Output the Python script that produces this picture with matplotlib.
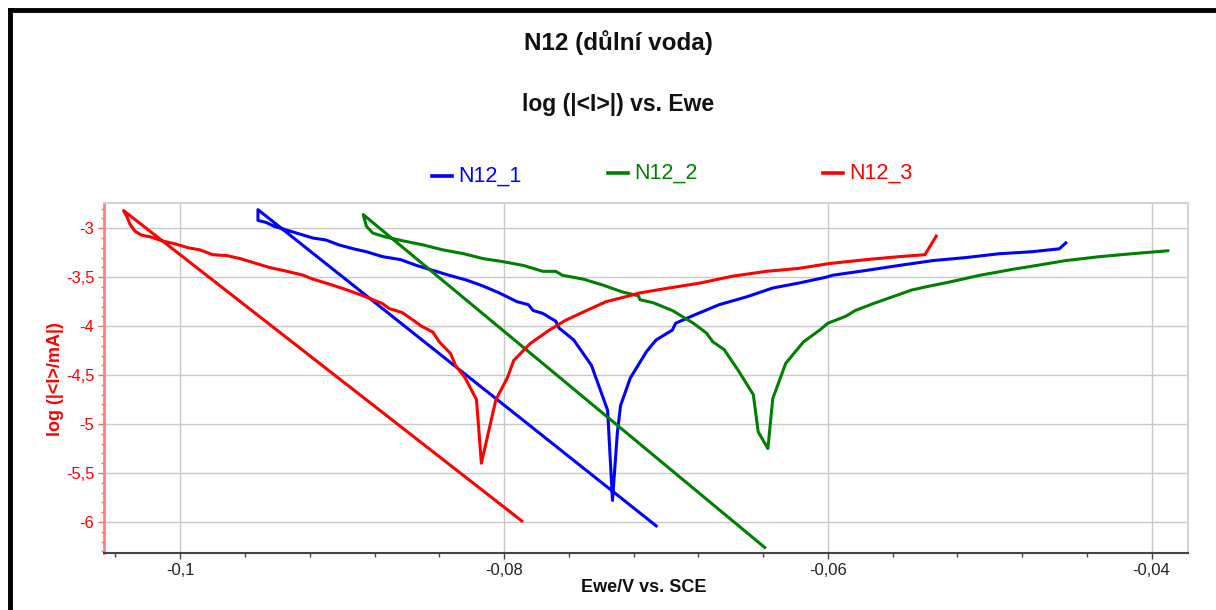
import matplotlib
matplotlib.use("Agg")
import matplotlib.pyplot as plt
from matplotlib.lines import Line2D
from matplotlib.ticker import MultipleLocator, FuncFormatter

plt.rcParams['font.family'] = ['Liberation Sans', 'DejaVu Sans']

# Ewe/V vs. SCE and log(|<I>/mA|)
n12_1_ewe = [-0.0706, -0.0952, -0.0952, -0.0947, -0.0942, -0.0934, -0.0926, -0.0918,
             -0.0910, -0.0902, -0.0893, -0.0885, -0.0875, -0.0864, -0.0854, -0.0844,
             -0.0834, -0.0823, -0.0813, -0.0803, -0.0792, -0.0785, -0.0782, -0.0776,
             -0.0768, -0.0766, -0.0757, -0.0746, -0.0736, -0.0733, -0.0730, -0.0728,
             -0.0722, -0.0712, -0.0706, -0.0696, -0.0694, -0.0683, -0.0667, -0.0650,
             -0.0634, -0.0618, -0.0601, -0.0597, -0.0576, -0.0556, -0.0535, -0.0515,
             -0.0494, -0.0474, -0.0457, -0.0453]
n12_1_logi = [-6.04, -2.81, -2.92, -2.94, -2.98, -3.02, -3.06, -3.10,
              -3.12, -3.17, -3.21, -3.24, -3.29, -3.32, -3.38, -3.43,
              -3.48, -3.53, -3.59, -3.66, -3.75, -3.78, -3.84, -3.87,
              -3.95, -4.02, -4.14, -4.40, -4.86, -5.78, -5.09, -4.81,
              -4.53, -4.26, -4.14, -4.04, -3.97, -3.89, -3.78, -3.70,
              -3.61, -3.56, -3.50, -3.48, -3.43, -3.38, -3.33, -3.30,
              -3.26, -3.24, -3.21, -3.15]

n12_2_ewe = [-0.0639, -0.0887, -0.0885, -0.0881, -0.0873, -0.0862, -0.0850, -0.0838,
             -0.0825, -0.0813, -0.0801, -0.0788, -0.0776, -0.0768, -0.0764, -0.0751,
             -0.0739, -0.0727, -0.0717, -0.0716, -0.0708, -0.0696, -0.0683, -0.0675,
             -0.0671, -0.0664, -0.0655, -0.0646, -0.0643, -0.0637, -0.0634, -0.0626,
             -0.0615, -0.0605, -0.0600, -0.0589, -0.0583, -0.0572, -0.0560, -0.0548,
             -0.0537, -0.0525, -0.0506, -0.0486, -0.0471, -0.0453, -0.0432, -0.0412,
             -0.0390]
n12_2_logi = [-6.26, -2.86, -2.98, -3.05, -3.09, -3.13, -3.17, -3.22,
              -3.26, -3.31, -3.34, -3.38, -3.44, -3.44, -3.48, -3.52,
              -3.58, -3.65, -3.69, -3.73, -3.76, -3.84, -3.97, -4.07,
              -4.16, -4.24, -4.46, -4.70, -5.08, -5.25, -4.74, -4.38,
              -4.16, -4.04, -3.97, -3.90, -3.84, -3.77, -3.70, -3.63,
              -3.59, -3.55, -3.48, -3.42, -3.38, -3.33, -3.29, -3.26,
              -3.23]

n12_3_ewe = [-0.0789, -0.1035, -0.1033, -0.1031, -0.1028, -0.1024, -0.1018, -0.1011,
             -0.1003, -0.0995, -0.0988, -0.0980, -0.0971, -0.0963, -0.0953, -0.0945,
             -0.0934, -0.0924, -0.0918, -0.0908, -0.0897, -0.0887, -0.0881, -0.0875,
             -0.0871, -0.0863, -0.0856, -0.0851, -0.0844, -0.0840, -0.0833, -0.0830,
             -0.0824, -0.0817, -0.0814, -0.0805, -0.0798, -0.0794, -0.0784, -0.0772,
             -0.0762, -0.0749, -0.0737, -0.0725, -0.0716, -0.0698, -0.0679, -0.0659,
             -0.0638, -0.0618, -0.0599, -0.0576, -0.0556, -0.0540, -0.0533]
n12_3_logi = [-5.99, -2.82, -2.88, -2.96, -3.03, -3.07, -3.09, -3.13,
              -3.16, -3.20, -3.22, -3.27, -3.28, -3.31, -3.36, -3.40,
              -3.44, -3.48, -3.52, -3.57, -3.63, -3.69, -3.73, -3.77,
              -3.82, -3.86, -3.94, -4.00, -4.06, -4.16, -4.28, -4.40,
              -4.53, -4.75, -5.40, -4.75, -4.53, -4.35, -4.18, -4.04,
              -3.94, -3.84, -3.75, -3.70, -3.66, -3.61, -3.56, -3.49,
              -3.44, -3.41, -3.36, -3.32, -3.29, -3.27, -3.08]

series_names = ['N12_1', 'N12_2', 'N12_3']
series_colors = ['#0000FF', '#008000', '#FF0000']

W, H = 1216, 610
fig = plt.figure(figsize=(W / 100, H / 100), dpi=100)
fig.patch.set_facecolor('white')

# plot area in pixels: left 104, right 1188, top 203, bottom 553
ax = fig.add_axes([104 / W, 1 - 553 / H, 1084 / W, 350 / H])

curves = [(n12_1_ewe, n12_1_logi), (n12_2_ewe, n12_2_logi), (n12_3_ewe, n12_3_logi)]
for (x, y), c in zip(curves, series_colors):
    ax.plot(x, y, color=c, lw=2.2, solid_joinstyle='round', zorder=3)

ax.set_xlim(-0.10471, -0.03775)
ax.set_ylim(-6.317, -2.742)

ax.xaxis.set_major_locator(MultipleLocator(0.02))
ax.xaxis.set_minor_locator(MultipleLocator(0.004))
ax.yaxis.set_major_locator(MultipleLocator(0.5))
ax.yaxis.set_minor_locator(MultipleLocator(0.1))
comma = FuncFormatter(lambda v, p: ('%g' % v).replace('.', ','))
ax.xaxis.set_major_formatter(comma)
ax.yaxis.set_major_formatter(comma)

ax.grid(True, which='major', color='#C8C8C8', lw=1.0)
ax.set_axisbelow(True)

for s in ['top', 'right']:
    ax.spines[s].set_color('#D4D4D4')
    ax.spines[s].set_linewidth(1.5)
ax.spines['bottom'].set_color('#444444')
ax.spines['bottom'].set_linewidth(1.5)
ax.spines['left'].set_color('#FF8080')
ax.spines['left'].set_linewidth(2.0)

ax.tick_params(axis='x', which='major', direction='out', length=4, width=1,
               color='#444444', labelsize=12, pad=3, labelcolor='#222222')
ax.tick_params(axis='x', which='minor', direction='out', length=3, width=1, color='#444444')
ax.tick_params(axis='y', which='major', direction='out', length=4, width=1,
               color='#FF6060', labelsize=12, pad=3, labelcolor='#FF0000')
ax.tick_params(axis='y', which='minor', direction='out', length=2.5, width=1, color='#FF6060')

# titles and axis labels
fig.text(618 / W, 1 - 43 / H, 'N12 (důlní voda)', ha='center', va='center',
         fontsize=17.5, fontweight='bold', color='#111111')
fig.text(618 / W, 1 - 104 / H, 'log (|<I>|) vs. Ewe', ha='center', va='center',
         fontsize=16.5, fontweight='bold', color='#111111')
fig.text(644 / W, 1 - 588 / H, 'Ewe/V vs. SCE', ha='center', va='center',
         fontsize=13, fontweight='bold', color='#111111')
fig.text(55 / W, 1 - 379 / H, 'log (|<I>/mA|)', ha='center', va='center',
         rotation=90, fontsize=13, fontweight='bold', color='#FF0000')

# legend above the plot
legend_x = [432, 608, 823]
legend_y = [176, 173, 173]
for name, c, lx, ly in zip(series_names, series_colors, legend_x, legend_y):
    fig.add_artist(Line2D([lx / W, (lx + 20) / W], [1 - ly / H, 1 - ly / H],
                          transform=fig.transFigure, color=c, lw=2.6))
    fig.text((lx + 26) / W, 1 - ly / H, name, ha='left', va='center',
             fontsize=15.5, color=c)

# black frame of the window (left and top edges)
fig.add_artist(Line2D([10 / W, 10 / W], [0, 1 - 10 / H], transform=fig.transFigure,
                      color='black', lw=3.5, solid_capstyle='projecting'))
fig.add_artist(Line2D([10 / W, 1], [1 - 10 / H, 1 - 10 / H], transform=fig.transFigure,
                      color='black', lw=3.5, solid_capstyle='projecting'))

fig.savefig('out.png', dpi=100)
